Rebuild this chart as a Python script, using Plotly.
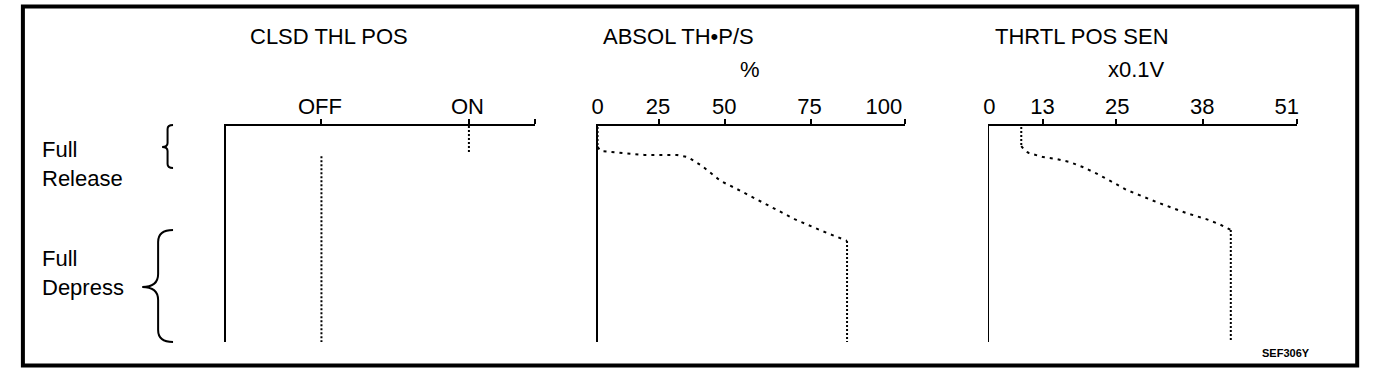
import plotly.graph_objects as go

W, H = 1392, 374

# ---------------- data ----------------
panel_titles = ["CLSD THL POS", "ABSOL TH\u2022P/S", "THRTL POS SEN"]
panel_units = ["", "%", "x0.1V"]
travel_labels = ["Full<br>Release", "Full<br>Depress"]
figure_code = "SEF306Y"

# horizontal axes are in sketch units (0..100 along each axis),
# vertical axis is pedal travel 0 (full release) .. 100 (full depress)
clsd_tick_labels = ["OFF", "ON"]
clsd_label_at = [30.3, 78.1]
clsd_tick_at = [30.8, 78.6, 100]
clsd_on_x = 78.6
clsd_off_x = 30.8
clsd_on_travel = [0, 13]
clsd_off_travel = [14, 100]

abs_tick_labels = ["0", "25", "50", "75", "100"]
abs_label_at = [0, 19.7, 41.2, 69.0, 93.2]
abs_tick_at = [20.1, 41.5, 69.6, 100]
abs_x = [0.0, 0.0, 1.0, 4.2, 15.2, 25.9, 29.4, 34.0, 40.1, 44.7, 53.4, 64.1, 73.1, 79.9, 81.2, 81.2]
abs_y = [0.5, 9.7, 11.6, 12.0, 13.4, 13.4, 14.4, 18.5, 25.5, 28.7, 35.2, 43.1, 48.6, 52.3, 53.2, 100]

tps_tick_labels = ["0", "13", "25", "38", "51"]
tps_label_at = [0, 17.3, 41.6, 69.3, 96.8]
tps_tick_at = [17.6, 41.3, 69.6, 100]
tps_x = [10.4, 10.4, 11.7, 12.9, 17.5, 22.0, 26.2, 30.4, 34.6, 39.5, 44.7, 54.4, 64.1, 70.6, 74.8, 78.6, 78.6]
tps_y = [0.5, 9.3, 11.6, 12.5, 14.4, 15.3, 16.7, 19.0, 21.8, 25.5, 29.6, 35.2, 40.3, 43.1, 45.4, 48.1, 100]

# ---------------- layout helpers ----------------
def px(x):
    return x / W

def py(y):
    return 1 - y / H

FONT = "Liberation Sans, Arial, Helvetica, sans-serif"
BLACK = "#000000"
DENSE = "2px,2px"
SPARSE = "3px,5px"
FS = 22

x_domains = [[px(221.7), px(532)], [px(595), px(904)], [px(989), px(1298)]]
y_domain = [py(342), py(126)]

fig = go.Figure()

def line_trace(x, y, axis, dash, width=2):
    fig.add_trace(go.Scatter(
        x=x, y=y, mode="lines", xaxis=axis[0], yaxis=axis[1],
        line=dict(color=BLACK, width=width, dash=dash),
        hoverinfo="skip", showlegend=False))

# panel 1: switch state
line_trace([clsd_on_x, clsd_on_x], clsd_on_travel, ("x", "y"), DENSE)
line_trace([clsd_off_x, clsd_off_x], clsd_off_travel, ("x", "y"), DENSE)

# panel 2 and 3: sensor outputs
for xs, ys, ax in [(abs_x, abs_y, ("x2", "y2")), (tps_x, tps_y, ("x3", "y3"))]:
    line_trace(xs[:2], ys[:2], ax, DENSE)
    line_trace(xs[1:-1], ys[1:-1], ax, SPARSE)
    line_trace(xs[-2:], ys[-2:], ax, DENSE)

def xaxis_cfg(domain, label_at, labels, tick_at, anchor):
    return dict(
        domain=domain, range=[0, 100], anchor=anchor, side="top",
        showline=True, linecolor=BLACK, linewidth=2,
        showgrid=False, zeroline=False, fixedrange=True,
        tickmode="array", tickvals=label_at, ticktext=labels,
        ticks="", ticklabelstandoff=1,
        tickfont=dict(family=FONT, size=FS, color=BLACK),
        minor=dict(tickmode="array", tickvals=tick_at, ticks="outside",
                   ticklen=5, tickwidth=2, tickcolor=BLACK, showgrid=False),
    )

def yaxis_cfg(anchor, width):
    return dict(
        domain=y_domain, range=[100, 0], anchor=anchor,
        showline=True, linecolor=BLACK, linewidth=width,
        showgrid=False, zeroline=False, showticklabels=False,
        ticks="", fixedrange=True,
    )

annotations = []
title_pos = [(325, 37), (676, 37), (1082, 37)]
unit_pos = [(325, 70), (748, 70), (1137, 70)]
for t, u, (tx, ty), (ux, uy) in zip(panel_titles, panel_units, title_pos, unit_pos):
    annotations.append(dict(text=t, x=px(tx), y=py(ty), xref="paper", yref="paper",
                            xanchor="center", yanchor="middle", showarrow=False,
                            font=dict(family=FONT, size=FS, color=BLACK)))
    if u:
        annotations.append(dict(text=u, x=px(ux), y=py(uy), xref="paper", yref="paper",
                                xanchor="center", yanchor="middle", showarrow=False,
                                font=dict(family=FONT, size=FS, color=BLACK)))

for lab, cy in zip(travel_labels, [164, 273]):
    annotations.append(dict(text=lab, x=px(34), y=py(cy), xref="paper", yref="paper",
                            xanchor="left", yanchor="middle", align="left", showarrow=False,
                            font=dict(family=FONT, size=FS, color=BLACK)))

annotations.append(dict(text="<b>" + figure_code + "</b>", x=px(1287), y=py(352.5),
                        xref="paper", yref="paper",
                        xanchor="center", yanchor="middle", showarrow=False,
                        font=dict(family=FONT, size=11, color=BLACK)))

def brace(x_end, x_mid, x_tip, y_top, y_bot, y_tip, r, rt):
    pts = [
        f"M {px(x_end)} {py(y_top)}",
        f"Q {px(x_mid)} {py(y_top)} {px(x_mid)} {py(y_top + r)}",
        f"L {px(x_mid)} {py(y_tip - rt)}",
        f"Q {px(x_mid)} {py(y_tip)} {px(x_tip)} {py(y_tip)}",
        f"Q {px(x_mid)} {py(y_tip)} {px(x_mid)} {py(y_tip + rt)}",
        f"L {px(x_mid)} {py(y_bot - r)}",
        f"Q {px(x_mid)} {py(y_bot)} {px(x_end)} {py(y_bot)}",
    ]
    return dict(type="path", path=" ".join(pts), xref="paper", yref="paper",
                line=dict(color=BLACK, width=2))

shapes = [
    dict(type="rect", xref="paper", yref="paper",
         x0=px(17), x1=px(1359), y0=py(365.5), y1=py(6.5),
         line=dict(color=BLACK, width=4)),
    brace(168, 162.5, 157, 125, 168, 147, 4, 4),
    brace(168, 153, 137, 230, 342, 287, 12, 13),
]

fig.update_layout(
    width=W, height=H, autosize=False,
    margin=dict(l=0, r=0, t=0, b=0, pad=0),
    paper_bgcolor="white", plot_bgcolor="white",
    showlegend=False, hovermode=False,
    xaxis=xaxis_cfg(x_domains[0], clsd_label_at, clsd_tick_labels, clsd_tick_at, "y"),
    xaxis2=xaxis_cfg(x_domains[1], abs_label_at, abs_tick_labels, abs_tick_at, "y2"),
    xaxis3=xaxis_cfg(x_domains[2], tps_label_at, tps_tick_labels, tps_tick_at, "y3"),
    yaxis=yaxis_cfg("x", 2),
    yaxis2=yaxis_cfg("x2", 1.5),
    yaxis3=yaxis_cfg("x3", 1.5),
    annotations=annotations,
    shapes=shapes,
)

fig.write_html("out.html", config={"displayModeBar": False, "staticPlot": True})
